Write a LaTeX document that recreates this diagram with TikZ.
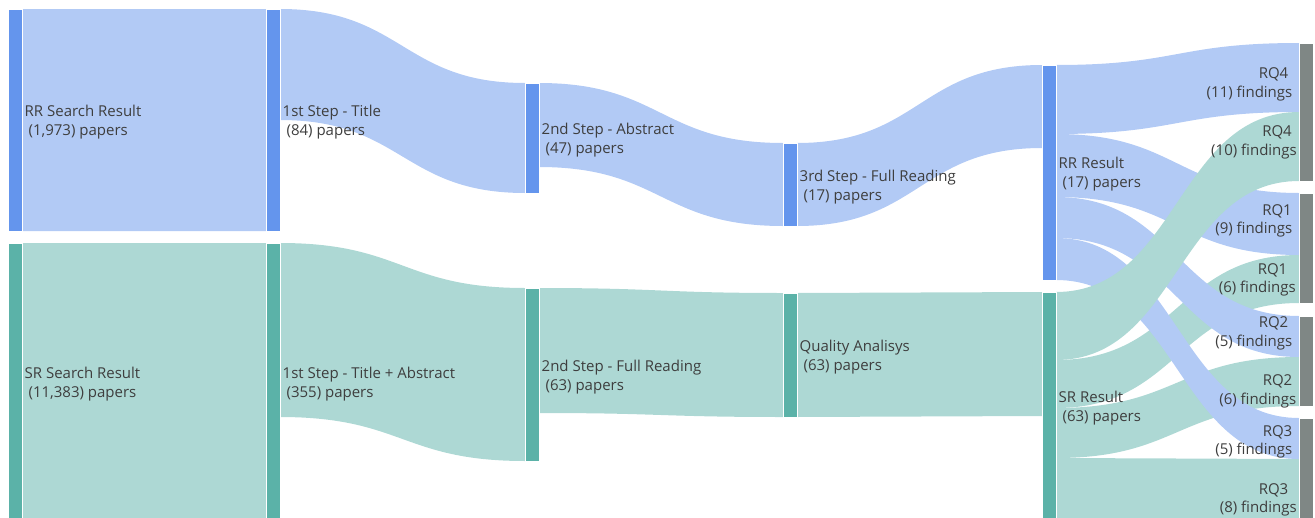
\documentclass[tikz,border=0pt]{standalone}
\usepackage{fontspec}
\setmainfont{Open Sans}
\definecolor{rrbarc}{RGB}{100,149,237}
\definecolor{rrflowc}{RGB}{178,202,245}
\definecolor{srbarc}{RGB}{91,178,168}
\definecolor{srflowc}{RGB}{173,216,212}
\definecolor{rqbarc}{RGB}{127,135,133}
\definecolor{labelc}{RGB}{62,62,62}

% A sankey band: style, x0, top0, bottom0, x1, top1, bottom1
\newcommand\sankeyband[7]{%
  \pgfmathsetmacro\bandmid{(#2+#5)/2}%
  \fill[#1] (#2,#3) .. controls (\bandmid,#3) and (\bandmid,#6) .. (#5,#6)
    -- (#5,#7) .. controls (\bandmid,#7) and (\bandmid,#4) .. (#2,#4) -- cycle;}

\begin{document}
\begin{tikzpicture}[x=1pt,y=-1pt,
  bar/.style={rectangle, inner sep=0pt, minimum width=14pt, draw=white, line width=0.5pt},
  rrbar/.style={bar, fill=rrbarc},
  srbar/.style={bar, fill=srbarc},
  rqbar/.style={bar, fill=rqbarc},
  rrflow/.style={fill=rrflowc},
  srflow/.style={fill=srflowc},
  lbl/.style={inner sep=0pt, text=labelc, font=\fontsize{15}{19}\selectfont},
  lblL/.style={lbl, anchor=base west},
  lblR/.style={lbl, anchor=base east}]
\clip (0,0) rectangle (1315,517);

% ---- flows of the rapid review
\sankeyband{rrflow}{22}{9}{231}{266}{9}{231}
\sankeyband{rrflow}{280}{9}{120}{525}{83}{193}
\sankeyband{rrflow}{539}{83}{167}{783}{143}{226}
\sankeyband{rrflow}{797}{143}{226}{1042}{65}{148}
% ---- flows of the systematic review
\sankeyband{srflow}{22}{243}{521}{266}{243}{521}
\sankeyband{srflow}{280}{243}{417}{525}{288}{461}
\sankeyband{srflow}{539}{288}{413}{783}{293}{417}
\sankeyband{srflow}{797}{293}{417}{1042}{292}{416}
% ---- flows into the research questions
\sankeyband{srflow}{1056}{360}{408}{1299}{255}{303}
\sankeyband{srflow}{1056}{408}{458}{1299}{357}{406}
\sankeyband{srflow}{1056}{458}{524}{1299}{459}{525}
\sankeyband{rrflow}{1056}{134}{197}{1299}{193}{255}
\sankeyband{rrflow}{1056}{197}{238}{1299}{316}{357}
\sankeyband{rrflow}{1056}{238}{280}{1299}{418}{459}
\sankeyband{rrflow}{1056}{65}{134}{1299}{43}{112}
\sankeyband{srflow}{1056}{292}{360}{1299}{112}{181}

% ---- node bars
\node[rrbar, minimum height=222pt] (rrsearch) at (15,120) {};
\node[rrbar, minimum height=222pt] (rrtitle) at (273,120) {};
\node[rrbar, minimum height=110pt] (rrabs) at (532,138) {};
\node[rrbar, minimum height=83pt] (rrfull) at (790,184.5) {};
\node[rrbar, minimum height=215pt] (rrres) at (1049,172.5) {};
\node[srbar, minimum height=278pt] (srsearch) at (15,382) {};
\node[srbar, minimum height=278pt] (srtitle) at (273,382) {};
\node[srbar, minimum height=173pt] (srfull) at (532,374.5) {};
\node[srbar, minimum height=124pt] (srqual) at (790,355) {};
\node[srbar, minimum height=230pt] (srres) at (1049,407) {};
\node[rqbar, minimum height=138pt] (rq4) at (1306,112) {};
\node[rqbar, minimum height=110pt] (rq1) at (1306,248) {};
\node[rqbar, minimum height=90pt] (rq2) at (1306,361) {};
\node[rqbar, minimum height=103pt] (rq3) at (1306,469.5) {};

% ---- labels
\node[lblL] (rrsearch-a) at (24.5,116.5) {RR Search Result};
\node[lblL] (rrsearch-b) at (24.5,135.5) {\ (1,973) papers};
\node[lblL] (rrtitle-a) at (282.5,116.5) {1st Step - Title};
\node[lblL] (rrtitle-b) at (282.5,135.5) {\ (84) papers};
\node[lblL] (rrabs-a) at (541.5,134.5) {2nd Step - Abstract};
\node[lblL] (rrabs-b) at (541.5,153.5) {\ (47) papers};
\node[lblL] (rrfull-a) at (799.5,181) {3rd Step - Full Reading};
\node[lblL] (rrfull-b) at (799.5,200) {\ (17) papers};
\node[lblL] (rrres-a) at (1058.5,168) {RR Result};
\node[lblL] (rrres-b) at (1058.5,187) {\ (17) papers};

\node[lblL] (srsearch-a) at (24.5,378.5) {SR Search Result};
\node[lblL] (srsearch-b) at (24.5,397.5) {\ (11,383) papers};
\node[lblL] (srtitle-a) at (282.5,378.5) {1st Step - Title + Abstract};
\node[lblL] (srtitle-b) at (282.5,397.5) {\ (355) papers};
\node[lblL] (srfull-a) at (541.5,371) {2nd Step - Full Reading};
\node[lblL] (srfull-b) at (541.5,390) {\ (63) papers};
\node[lblL] (srqual-a) at (799.5,351.5) {Quality Analisys};
\node[lblL] (srqual-b) at (799.5,370.5) {\ (63) papers};
\node[lblL] (srres-a) at (1058.5,402.5) {SR Result};
\node[lblL] (srres-b) at (1058.5,421.5) {\ (63) papers};

\node[lblR] (rq4rr-a) at (1288.5,78.5) {RQ4};
\node[lblR] (rq4rr-b) at (1292.5,97.5) {(11) findings};
\node[lblR] (rq4sr-a) at (1292,136) {RQ4};
\node[lblR] (rq4sr-b) at (1297,155) {(10) findings};
\node[lblR] (rq1rr-a) at (1292,215) {RQ1};
\node[lblR] (rq1rr-b) at (1292.5,233.5) {(9) findings};
\node[lblR] (rq1sr-a) at (1287.5,274) {RQ1};
\node[lblR] (rq1sr-b) at (1296,292.5) {(6) findings};
\node[lblR] (rq2rr-a) at (1288.5,327) {RQ2};
\node[lblR] (rq2rr-b) at (1292.5,346) {(5) findings};
\node[lblR] (rq2sr-a) at (1292.5,385) {RQ2};
\node[lblR] (rq2sr-b) at (1296.5,404) {(6) findings};
\node[lblR] (rq3rr-a) at (1292.5,436) {RQ3};
\node[lblR] (rq3rr-b) at (1292.5,454.5) {(5) findings};
\node[lblR] (rq3sr-a) at (1288.5,494) {RQ3};
\node[lblR] (rq3sr-b) at (1297,512.5) {(8) findings};
\end{tikzpicture}
\end{document}
